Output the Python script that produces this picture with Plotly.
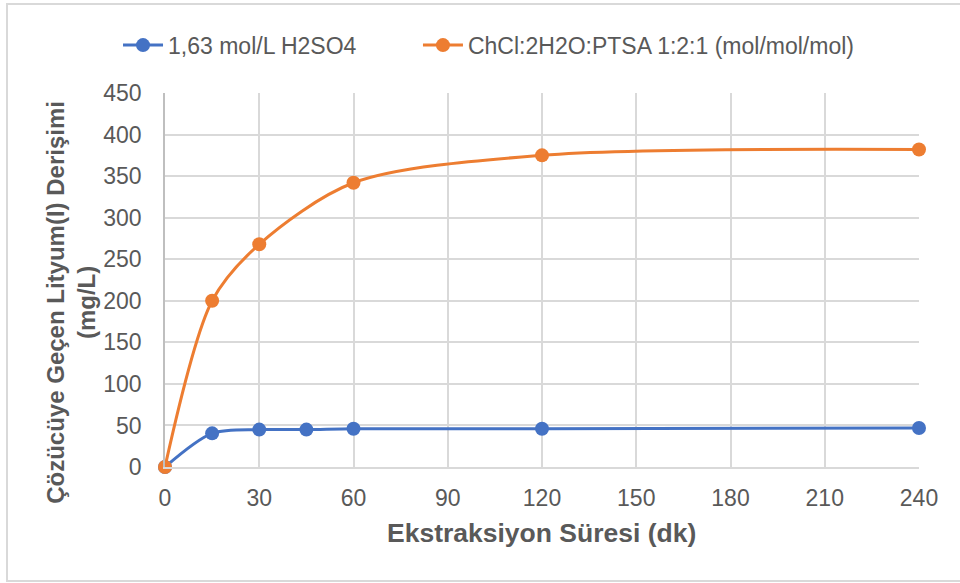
import plotly.graph_objects as go

# Extraction time (min) and lithium concentration in the leachate (mg/L)
time_h2so4 = [0, 15, 30, 45, 60, 120, 240]
conc_h2so4 = [0, 40.5, 45, 45, 46, 46, 47]

time_des = [0, 15, 30, 60, 120, 240]
conc_des = [0, 200, 268, 342, 375, 382]

x_ticks = [0, 30, 60, 90, 120, 150, 180, 210, 240]
y_ticks = [0, 50, 100, 150, 200, 250, 300, 350, 400, 450]

series_names = ["1,63 mol/L H2SO4", "ChCl:2H2O:PTSA 1:2:1 (mol/mol/mol)"]
colors = ["#4472C4", "#ED7D31"]

text_color = "#595959"
grid_color = "#D9D9D9"
font_family = "Liberation Sans, Arial, sans-serif"

fig = go.Figure()
for xs, ys, name, col, leg in [
    (time_h2so4, conc_h2so4, series_names[0], colors[0], "legend"),
    (time_des, conc_des, series_names[1], colors[1], "legend2"),
]:
    fig.add_trace(go.Scatter(
        x=xs, y=ys, name=name, mode="lines+markers",
        line=dict(color=col, width=3, shape="spline", smoothing=0.85),
        marker=dict(color=col, size=14),
        cliponaxis=False, legend=leg,
    ))

legend_style = dict(
    orientation="h", yanchor="middle", xanchor="left",
    font=dict(size=23, color=text_color), itemwidth=40,
    bgcolor="rgba(0,0,0,0)",
)

fig.update_layout(
    width=960, height=583,
    paper_bgcolor="white", plot_bgcolor="white",
    margin=dict(l=165, r=41, t=93, b=116),
    font=dict(family=font_family, color=text_color, size=23),
    showlegend=True,
    legend=dict(x=-0.0623, y=1.128, **legend_style),
    legend2=dict(x=0.3355, y=1.128, **legend_style),
    xaxis=dict(
        range=[0, 240], tickvals=x_ticks, ticktext=[str(v) for v in x_ticks],
        showgrid=True, gridcolor=grid_color, gridwidth=1.5,
        showline=True, linecolor=grid_color, linewidth=1.5,
        zeroline=False, ticks="", ticklabelstandoff=10,
        tickfont=dict(size=23, color=text_color),
    ),
    yaxis=dict(
        range=[0, 450], tickvals=y_ticks, ticktext=[str(v) for v in y_ticks],
        showgrid=True, gridcolor=grid_color, gridwidth=1.5,
        showline=True, linecolor="#BFBFBF", linewidth=1.5,
        zeroline=False, ticks="", ticklabelstandoff=17,
        tickfont=dict(size=23, color=text_color),
    ),
    annotations=[
        dict(
            text="<b>Çözücüye Geçen Lityum(I) Derişimi</b><br><b>(mg/L)</b>",
            xref="paper", yref="paper", x=-0.125, y=0.441,
            xanchor="center", yanchor="middle", textangle=-90,
            showarrow=False, font=dict(size=24, color=text_color),
        ),
        dict(
            text="<b>Ekstraksiyon Süresi (dk)</b>",
            xref="paper", yref="paper", x=0.4987, y=-0.176,
            xanchor="center", yanchor="middle",
            showarrow=False, font=dict(size=26.5, color=text_color),
        ),
    ],
    shapes=[
        dict(
            type="rect", xref="paper", yref="paper",
            x0=(7 - 165) / 754, x1=(966 - 165) / 754,
            y0=(467 - 581) / 374, y1=(467 - 4) / 374,
            line=dict(color=grid_color, width=2), layer="below",
        )
    ],
)

fig.write_html("out.html")
